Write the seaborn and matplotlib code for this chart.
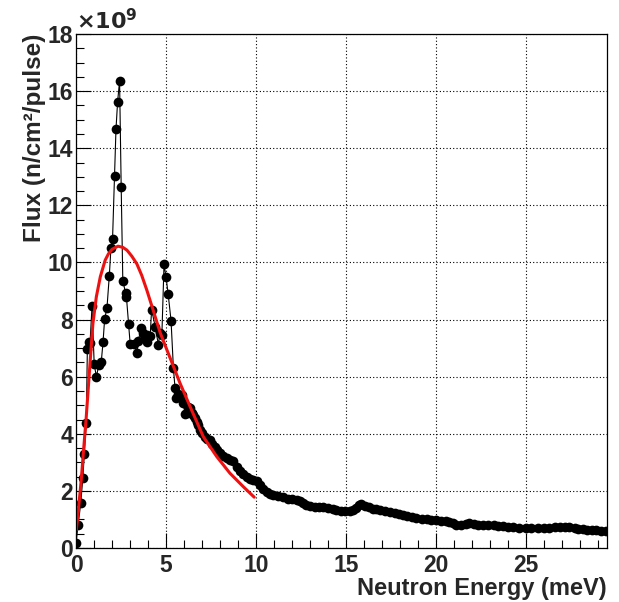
import matplotlib
matplotlib.use("Agg")
import matplotlib.pyplot as plt
import seaborn as sns
import pandas as pd
from matplotlib.ticker import MultipleLocator

# measured flux (units of 1e9 n/cm2/pulse) vs neutron energy (meV)
energy = [0.00, 0.12, 0.26, 0.38, 0.46, 0.57, 0.63, 0.70, 0.78, 0.89,
          1.01, 1.13, 1.27, 1.40, 1.50, 1.59, 1.72, 1.85, 1.94, 2.03,
          2.14, 2.22, 2.31, 2.42, 2.51, 2.60, 2.75, 2.80, 2.92, 3.01,
          3.23, 3.38, 3.47, 3.60, 3.71, 3.82, 3.93, 3.97, 4.12, 4.20,
          4.40, 4.58, 4.65, 4.77, 4.89, 5.00, 5.12, 5.28, 5.41, 5.50,
          5.56, 5.69, 5.88, 5.96, 6.05, 6.15, 6.24, 6.34, 6.43, 6.52,
          6.62, 6.71, 6.80, 6.89, 7.00, 7.17, 7.30, 7.44, 7.58, 7.72,
          7.86, 8.00, 8.18, 8.37, 8.55, 8.74, 8.92, 9.10, 9.30, 9.48,
          9.65, 9.85, 10.03, 10.22, 10.40, 10.59, 10.78, 10.96, 11.20, 11.51,
          11.80, 12.00, 12.25, 12.45, 12.62, 12.80, 12.99, 13.25, 13.50, 13.73,
          14.00, 14.25, 14.47, 14.70, 14.95, 15.20, 15.40, 15.55, 15.70, 15.85,
          16.04, 16.30, 16.50, 16.68, 16.90, 17.15, 17.42, 17.70, 17.95, 18.16,
          18.40, 18.65, 18.90, 19.20, 19.50, 19.75, 20.01, 20.30, 20.55, 20.75,
          20.95, 21.12, 21.40, 21.65, 21.86, 22.10, 22.35, 22.60, 22.90, 23.20,
          23.45, 23.70, 24.00, 24.30, 24.60, 25.00, 25.30, 25.65, 26.00, 26.29,
          26.60, 26.90, 27.15, 27.40, 27.70, 27.90, 28.14, 28.40, 28.65, 28.90,
          29.15, 29.43]
flux = [0.19, 0.82, 1.56, 2.45, 3.29, 4.38, 6.96, 7.21, 7.19, 8.47,
        6.44, 6.00, 6.41, 6.50, 7.20, 8.02, 8.41, 9.54, 10.49, 10.82,
        13.02, 14.66, 15.62, 16.36, 12.63, 9.36, 8.94, 8.80, 7.83, 7.14,
        7.14, 6.84, 7.26, 7.69, 7.52, 7.40, 7.46, 7.20, 7.43, 8.35,
        7.75, 7.11, 7.52, 7.46, 9.93, 9.50, 8.89, 7.96, 6.31, 5.61,
        5.24, 5.39, 5.36, 5.07, 4.70, 4.72, 4.95, 4.89, 4.72, 4.66,
        4.55, 4.42, 4.30, 4.13, 4.02, 3.90, 3.82, 3.78, 3.65, 3.55,
        3.42, 3.32, 3.22, 3.14, 3.08, 3.04, 2.85, 2.70, 2.58, 2.50,
        2.40, 2.38, 2.33, 2.21, 2.08, 1.97, 1.90, 1.86, 1.82, 1.77,
        1.73, 1.70, 1.68, 1.64, 1.59, 1.52, 1.47, 1.45, 1.43, 1.42,
        1.39, 1.35, 1.33, 1.31, 1.30, 1.30, 1.32, 1.40, 1.52, 1.54,
        1.47, 1.42, 1.38, 1.35, 1.33, 1.30, 1.27, 1.22, 1.18, 1.16,
        1.12, 1.07, 1.04, 1.02, 1.00, 0.99, 0.98, 0.96, 0.94, 0.92,
        0.86, 0.81, 0.82, 0.84, 0.86, 0.83, 0.82, 0.81, 0.80, 0.79,
        0.78, 0.77, 0.75, 0.73, 0.71, 0.69, 0.69, 0.70, 0.71, 0.71,
        0.72, 0.72, 0.72, 0.72, 0.69, 0.67, 0.65, 0.64, 0.63, 0.62,
        0.61, 0.60]

# red fitted curve
fit_energy = [0.02, 0.15, 0.29, 0.42, 0.57, 0.70, 0.83, 0.94, 1.13, 1.35,
              1.62, 1.80, 2.00, 2.33, 2.60, 2.83, 3.10, 3.38, 3.65, 3.94,
              4.30, 4.67, 5.23, 5.78, 6.34, 7.07, 7.82, 8.55, 9.29, 9.90]
fit_flux = [0.63, 1.45, 2.38, 3.43, 4.60, 5.77, 6.93, 7.87, 8.80, 9.50,
            10.08, 10.30, 10.46, 10.57, 10.53, 10.43, 10.22, 9.95, 9.55, 9.02,
            8.30, 7.55, 6.65, 5.77, 4.95, 3.90, 3.20, 2.62, 2.15, 1.78]

df = pd.DataFrame({"energy": energy, "flux": flux})
df_fit = pd.DataFrame({"energy": fit_energy, "flux": fit_flux})

sns.set_style("ticks")
plt.rcParams['font.family'] = ['Liberation Sans', 'DejaVu Sans']
plt.rcParams['font.weight'] = 'bold'

fig, ax = plt.subplots(figsize=(6.19, 6.02), dpi=100)
fig.subplots_adjust(left=0.1228, right=0.9806, bottom=0.0897, top=0.9435)

sns.lineplot(x="energy", y="flux", data=df, ax=ax, color="black",
             linewidth=0.8, marker="o", markersize=7, markeredgewidth=0,
             estimator=None, sort=False)
sns.lineplot(x="energy", y="flux", data=df_fit, ax=ax, color="#ee1111",
             linewidth=2.2, estimator=None, sort=False)

ax.set_xlim(0, 29.5)
ax.set_ylim(0, 18)
ax.xaxis.set_major_locator(MultipleLocator(5))
ax.xaxis.set_minor_locator(MultipleLocator(1))
ax.yaxis.set_major_locator(MultipleLocator(2))
ax.yaxis.set_minor_locator(MultipleLocator(0.5))
ax.tick_params(which="both", direction="in", top=False, right=False,
               labelsize=16.5, width=0.8, color="black")
ax.tick_params(which="major", length=11)
ax.tick_params(which="minor", length=5.5)
ax.tick_params(axis="y", pad=2)
ax.tick_params(axis="x", pad=4)
for lab in ax.get_xticklabels() + ax.get_yticklabels():
    lab.set_fontweight("bold")

ax.grid(True, which="major", color="black", linestyle=(0, (1, 2)), linewidth=0.8)
for sp in ax.spines.values():
    sp.set_color("black")
    sp.set_linewidth(0.9)

ax.set_xlabel("Neutron Energy (meV)", loc="right", fontsize=17,
              fontweight="bold", labelpad=0)
ax.set_ylabel("Flux (n/cm²/pulse)", loc="top", fontsize=17.5,
              fontweight="bold", labelpad=1)
ax.text(0.0, 1.0, r"$\mathbf{\times10^{9}}$", transform=ax.transAxes,
        fontsize=16, ha="left", va="bottom")

plt.savefig("out.png", dpi=100)
